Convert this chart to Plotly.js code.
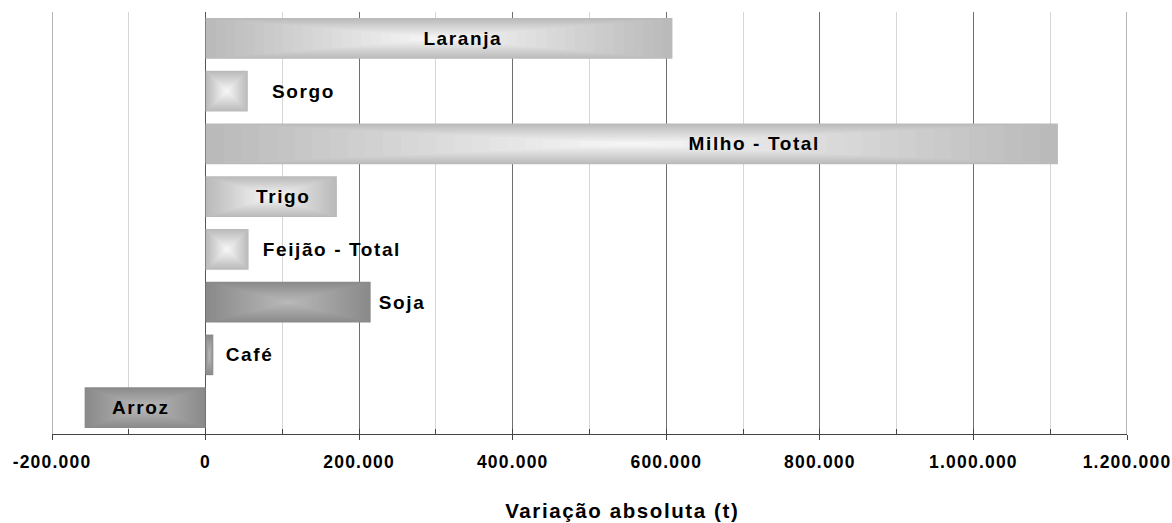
<!DOCTYPE html>
<html>
<head>
<meta charset="utf-8">
<script src="https://cdn.plot.ly/plotly-3.0.1.min.js"></script>
<style>
html, body { margin: 0; padding: 0; background: #fff; }
#chart { width: 1172px; height: 523px; }
.main-svg text { letter-spacing: 1.6px; }
.main-svg .xtick text { letter-spacing: 1.2px; }
</style>
</head>
<body>
<div id="chart"></div>
<script>
// ---- data ----
const categories = ['Laranja', 'Sorgo', 'Milho - Total', 'Trigo', 'Feijão - Total', 'Soja', 'Café', 'Arroz'];
const values = [608000, 55000, 1110000, 171000, 56000, 215000, 10000, -157500];
const tickVals = [-200000, 0, 200000, 400000, 600000, 800000, 1000000, 1200000];
const tickLabels = ['-200.000', '0', '200.000', '400.000', '600.000', '800.000', '1.000.000', '1.200.000'];
const axisTitle = 'Variação absoluta (t)';

// ---- styles ----
const shade = ['light', 'light', 'light', 'light', 'light', 'dark', 'dark', 'dark'];
const labelPlacement = ['inside', 'outside', 'inside', 'inside', 'outside', 'outside', 'outside', 'inside'];
const labelShift = [24, 26, 122, 12, 23, 9, 14, -4];
const palette = {
  light: { edge: [186, 186, 186], centre: [246, 246, 246] },
  dark:  { edge: [138, 138, 138], centre: [184, 184, 184] }
};
const FONT = 'Liberation Sans, Arial, Helvetica, sans-serif';
const GRID = '#6e6e6e';
const BAR_W = 0.77;
const LEVELS = 24;

function mix(a, b, t) {
  const c = a.map((v, i) => Math.round(v + (b[i] - v) * t));
  return 'rgb(' + c.join(',') + ')';
}

const traces = [];
for (let k = 0; k < LEVELS; k++) {
  const f = k / LEVELS;
  const t = k / (LEVELS - 1);
  traces.push({
    type: 'bar',
    orientation: 'h',
    y: categories,
    x: values.map(v => v * (1 - f)),
    base: values.map(v => v * f / 2),
    width: categories.map(() => BAR_W * (1 - f)),
    marker: {
      color: shade.map(s => mix(palette[s].edge, palette[s].centre, t)),
      line: { width: 0 }
    },
    hoverinfo: 'skip',
    showlegend: false
  });
}
// invisible trace to register the overlay axis for the inner tick marks
traces.push({
  type: 'scatter', mode: 'markers', x: [0], y: [categories[0]],
  xaxis: 'x2', marker: { opacity: 0 }, hoverinfo: 'skip', showlegend: false
});

const annotations = categories.map((c, i) => {
  const v = values[i];
  const inside = labelPlacement[i] === 'inside';
  return {
    xref: 'x', yref: 'y',
    x: inside ? v / 2 : v,
    y: c,
    xanchor: inside ? 'center' : 'left',
    yanchor: 'middle',
    xshift: labelShift[i],
    text: c,
    showarrow: false,
    font: { family: FONT, size: 19, color: '#000', weight: 'bold' }
  };
});
annotations.push({
  xref: 'paper', yref: 'paper',
  x: 0.531, y: -0.181,
  xanchor: 'center', yanchor: 'middle',
  text: axisTitle, showarrow: false,
  font: { family: FONT, size: 20.5, color: '#000', weight: 'bold' }
});

// gridlines at the two ends of the axis range
const edgeLines = [tickVals[0], tickVals[tickVals.length - 1]].map(v => ({
  type: 'line', xref: 'x', yref: 'paper', x0: v, x1: v, y0: 0, y1: 1,
  line: { color: GRID, width: 1 }, layer: 'below'
}));

const layout = {
  width: 1172,
  height: 523,
  margin: { l: 52, r: 45, t: 12, b: 89, pad: 0 },
  paper_bgcolor: '#fff',
  plot_bgcolor: '#fff',
  barmode: 'overlay',
  showlegend: false,
  xaxis: {
    range: [-200000, 1200000],
    tickmode: 'array',
    tickvals: tickVals,
    ticktext: tickLabels,
    ticks: 'outside',
    ticklen: 5,
    tickcolor: '#444',
    tickwidth: 1,
    tickfont: { family: FONT, size: 17.5, color: '#000', weight: 'bold' },
    ticklabelstandoff: 7,
    showgrid: true,
    gridcolor: GRID,
    gridwidth: 1,
    zeroline: true,
    zerolinecolor: '#555',
    zerolinewidth: 1,
    showline: true,
    linecolor: '#444',
    linewidth: 1,
    minor: { dtick: 100000, tick0: 0, showgrid: true, gridcolor: '#d6d6d6', gridwidth: 1, ticks: '' },
    fixedrange: true
  },
  xaxis2: {
    overlaying: 'x',
    matches: 'x',
    anchor: 'y',
    side: 'bottom',
    range: [-200000, 1200000],
    tickmode: 'linear',
    tick0: 0,
    dtick: 100000,
    ticks: 'inside',
    ticklen: 5,
    tickcolor: '#444',
    showticklabels: false,
    showgrid: false,
    zeroline: false,
    showline: false
  },
  yaxis: {
    type: 'category',
    autorange: 'reversed',
    showticklabels: false,
    showgrid: false,
    zeroline: false,
    showline: false,
    ticks: '',
    fixedrange: true
  },
  shapes: edgeLines,
  annotations: annotations
};

Plotly.newPlot('chart', traces, layout, { displayModeBar: false, staticPlot: true });
</script>
</body>
</html>
